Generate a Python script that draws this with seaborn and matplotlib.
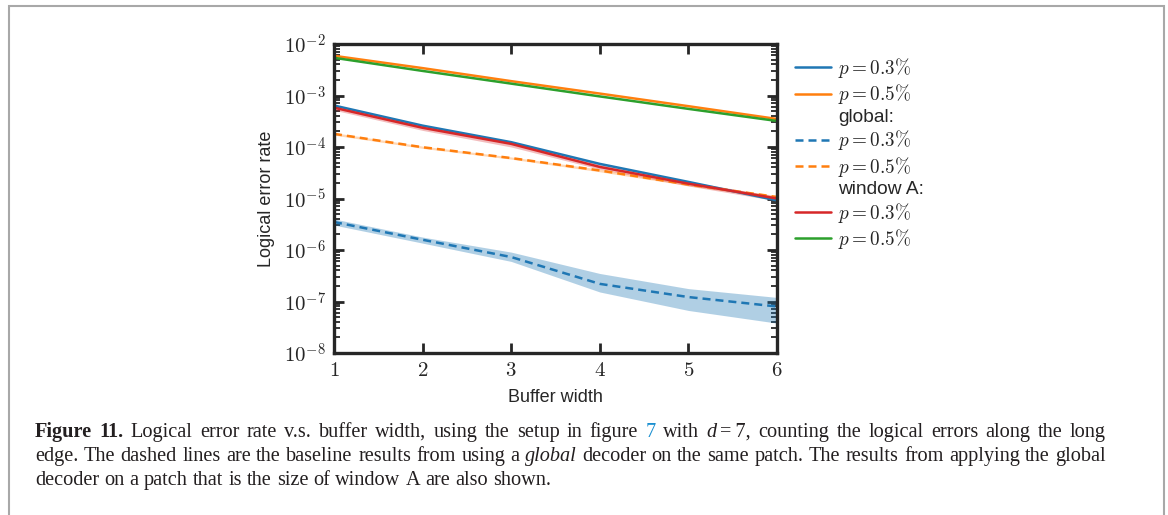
import numpy as np
import pandas as pd
import matplotlib
matplotlib.use("Agg")
import matplotlib.pyplot as plt
import matplotlib.ticker as mticker
from matplotlib.lines import Line2D
from matplotlib.patches import Rectangle
import seaborn as sns

# ---------------- data ----------------
buffer_width = [1, 2, 3, 4, 5, 6]
ler_p03 = [6.4e-4, 2.6e-4, 1.24e-4, 4.7e-5, 2.1e-5, 9.2e-6]
ler_p05 = [5.9e-3, 3.4e-3, 1.9e-3, 1.09e-3, 6.2e-4, 3.5e-4]
global_p03 = [3.5e-6, 1.58e-6, 7.3e-7, 2.2e-7, 1.22e-7, 8.0e-8]
global_p03_lo = [3.05e-6, 1.36e-6, 6.0e-7, 1.53e-7, 6.7e-8, 3.8e-8]
global_p03_hi = [4.0e-6, 1.78e-6, 9.1e-7, 3.5e-7, 1.78e-7, 1.2e-7]
global_p05 = [1.8e-4, 9.9e-5, 6.1e-5, 3.5e-5, 1.87e-5, 1.07e-5]
global_p05_lo = [1.7e-4, 9.4e-5, 5.8e-5, 3.3e-5, 1.77e-5, 1.0e-5]
global_p05_hi = [1.9e-4, 1.04e-4, 6.4e-5, 3.7e-5, 1.97e-5, 1.14e-5]
winA_p03 = [5.8e-4, 2.36e-4, 1.15e-4, 4.1e-5, 1.94e-5, 1.0e-5]
winA_p03_lo = [5.2e-4, 2.1e-4, 1.0e-4, 3.7e-5, 1.75e-5, 9.0e-6]
winA_p03_hi = [6.5e-4, 2.65e-4, 1.3e-4, 4.6e-5, 2.15e-5, 1.1e-5]
winA_p05 = [5.4e-3, 3.0e-3, 1.7e-3, 9.6e-4, 5.5e-4, 3.2e-4]

legend_labels = [r"$p=0.3\%$", r"$p=0.5\%$", "global:", r"$p=0.3\%$",
                 r"$p=0.5\%$", "window A:", r"$p=0.3\%$", r"$p=0.5\%$"]
x_label = "Buffer width"
y_label = "Logical error rate"

# ---------------- style ----------------
sns.set_style("ticks")
plt.rcParams["font.family"] = ["Liberation Sans", "DejaVu Sans"]
plt.rcParams["mathtext.fontset"] = "cm"

C_BLUE, C_ORANGE, C_GREEN, C_RED = "#1f77b4", "#ff7f0e", "#2ca02c", "#d62728"

fig = plt.figure(figsize=(11.68, 5.15), dpi=100)
ax = fig.add_axes([334 / 1168, 1 - 353 / 515, (777 - 334) / 1168, (353 - 44) / 515])

lw = 1.8
dash = (0, (3.2, 2.0))
# bands
ax.fill_between(buffer_width, global_p03_lo, global_p03_hi, color=C_BLUE, alpha=0.35, lw=0)
ax.fill_between(buffer_width, global_p05_lo, global_p05_hi, color=C_ORANGE, alpha=0.3, lw=0)
ax.fill_between(buffer_width, winA_p03_lo, winA_p03_hi, color=C_RED, alpha=0.3, lw=0)

sns.lineplot(x=buffer_width, y=ler_p03, ax=ax, color=C_BLUE, lw=lw)
sns.lineplot(x=buffer_width, y=ler_p05, ax=ax, color=C_ORANGE, lw=lw)
sns.lineplot(x=buffer_width, y=global_p03, ax=ax, color=C_BLUE, lw=lw, linestyle=dash)
sns.lineplot(x=buffer_width, y=global_p05, ax=ax, color=C_ORANGE, lw=lw, linestyle=dash)
sns.lineplot(x=buffer_width, y=winA_p03, ax=ax, color=C_RED, lw=lw)
sns.lineplot(x=buffer_width, y=winA_p05, ax=ax, color=C_GREEN, lw=lw)

ax.set_yscale("log")
ax.set_xlim(1, 6)
ax.set_ylim(1e-8, 1e-2)
ax.set_xticks(buffer_width)
ax.xaxis.set_major_formatter(mticker.FuncFormatter(lambda v, p: rf"${int(round(v))}$"))
ax.yaxis.set_major_locator(mticker.LogLocator(base=10, numticks=10))
ax.yaxis.set_minor_locator(mticker.LogLocator(base=10, subs=np.arange(2, 10), numticks=20))
ax.yaxis.set_minor_formatter(mticker.NullFormatter())
ax.yaxis.set_major_formatter(mticker.FuncFormatter(
    lambda v, p: rf"$10^{{{int(round(np.log10(v)))}}}$"))

for s in ax.spines.values():
    s.set_linewidth(2.4)
    s.set_visible(True)
ax.tick_params(which="major", direction="in", length=7, width=2.0,
               top=True, right=True, labelsize=15, pad=6)
ax.tick_params(which="minor", direction="in", length=4, width=1.3,
               top=True, right=True)
ax.tick_params(axis="x", which="minor", top=False, bottom=False)

ax.set_xlabel(x_label, fontsize=13, labelpad=6)
ax.set_ylabel(y_label, fontsize=13, labelpad=6)

# legend
handles = [
    Line2D([], [], color=C_BLUE, lw=lw),
    Line2D([], [], color=C_ORANGE, lw=lw),
    Line2D([], [], color="none"),
    Line2D([], [], color=C_BLUE, lw=lw, linestyle=dash),
    Line2D([], [], color=C_ORANGE, lw=lw, linestyle=dash),
    Line2D([], [], color="none"),
    Line2D([], [], color=C_RED, lw=lw),
    Line2D([], [], color=C_GREEN, lw=lw),
]
leg = ax.legend(handles, legend_labels, loc="upper left",
                bbox_to_anchor=((795 - 334) / 443, 1 - (56 - 44) / 309),
                frameon=False, fontsize=13.8, handlelength=1.9,
                handletextpad=0.36, labelspacing=0.12, borderpad=0,
                borderaxespad=0)

# ---------------- caption (justified) ----------------
cap_font = ["Liberation Serif", "DejaVu Serif"]
cap_size = 14.6
N, B, I, L = {}, dict(weight="bold"), dict(style="italic"), dict(color="#1a8fd0")
caption_lines = [
    ([[("Figure", B)], [("11.", B)]] +
     [[(w, N)] for w in "Logical error rate v.s. buffer width, using the setup in figure".split()] +
     [[("7", L)], [("with", N)], [("d", I), ("\u2009=\u20097,", N)]] +
     [[(w, N)] for w in "counting the logical errors along the long".split()], True),
    ([[(w, N)] for w in "edge. The dashed lines are the baseline results from using a".split()] +
     [[("global", I)]] +
     [[(w, N)] for w in "decoder on the same patch. The results from applying the global".split()], True),
    ([[(w, N)] for w in "decoder on a patch that is the size of window A are also shown.".split()], False),
]
fig.canvas.draw()
renderer = fig.canvas.get_renderer()
W = fig.bbox.width
x_left, x_right = 35 / 1168, 1106 / 1168
baselines = [437, 461, 485]
space_px = None
for (words, justify), yb in zip(caption_lines, baselines):
    arts = []
    for word in words:
        segs = []
        for txt, kw in word:
            t = fig.text(0, 1 - yb / 515, txt, fontsize=cap_size, family=cap_font,
                         va="baseline", ha="left", color=kw.get("color", "#231f20"),
                         weight=kw.get("weight", "normal"),
                         style=kw.get("style", "normal"))
            segs.append((t, t.get_window_extent(renderer).width / W))
        arts.append(segs)
    if space_px is None:
        probe = fig.text(0, 0, "a a", fontsize=cap_size, family=cap_font)
        probe2 = fig.text(0, 0, "aa", fontsize=cap_size, family=cap_font)
        space_px = (probe.get_window_extent(renderer).width -
                    probe2.get_window_extent(renderer).width) / W
        probe.remove(); probe2.remove()
    widths = [sum(w for _, w in segs) for segs in arts]
    gap = space_px
    if justify and len(arts) > 1:
        gap = (x_right - x_left - sum(widths)) / (len(arts) - 1)
    x = x_left
    for segs, wsum in zip(arts, widths):
        xx = x
        for t, w in segs:
            t.set_x(xx)
            xx += w
        x += wsum + gap

# frame
fig.add_artist(Rectangle((9 / 1168, -0.05), (1164 - 9) / 1168, 1.05 - 6 / 515,
                         transform=fig.transFigure, fill=False,
                         edgecolor="#a8a8a8", lw=1.5))

fig.savefig("out.png", dpi=100)
